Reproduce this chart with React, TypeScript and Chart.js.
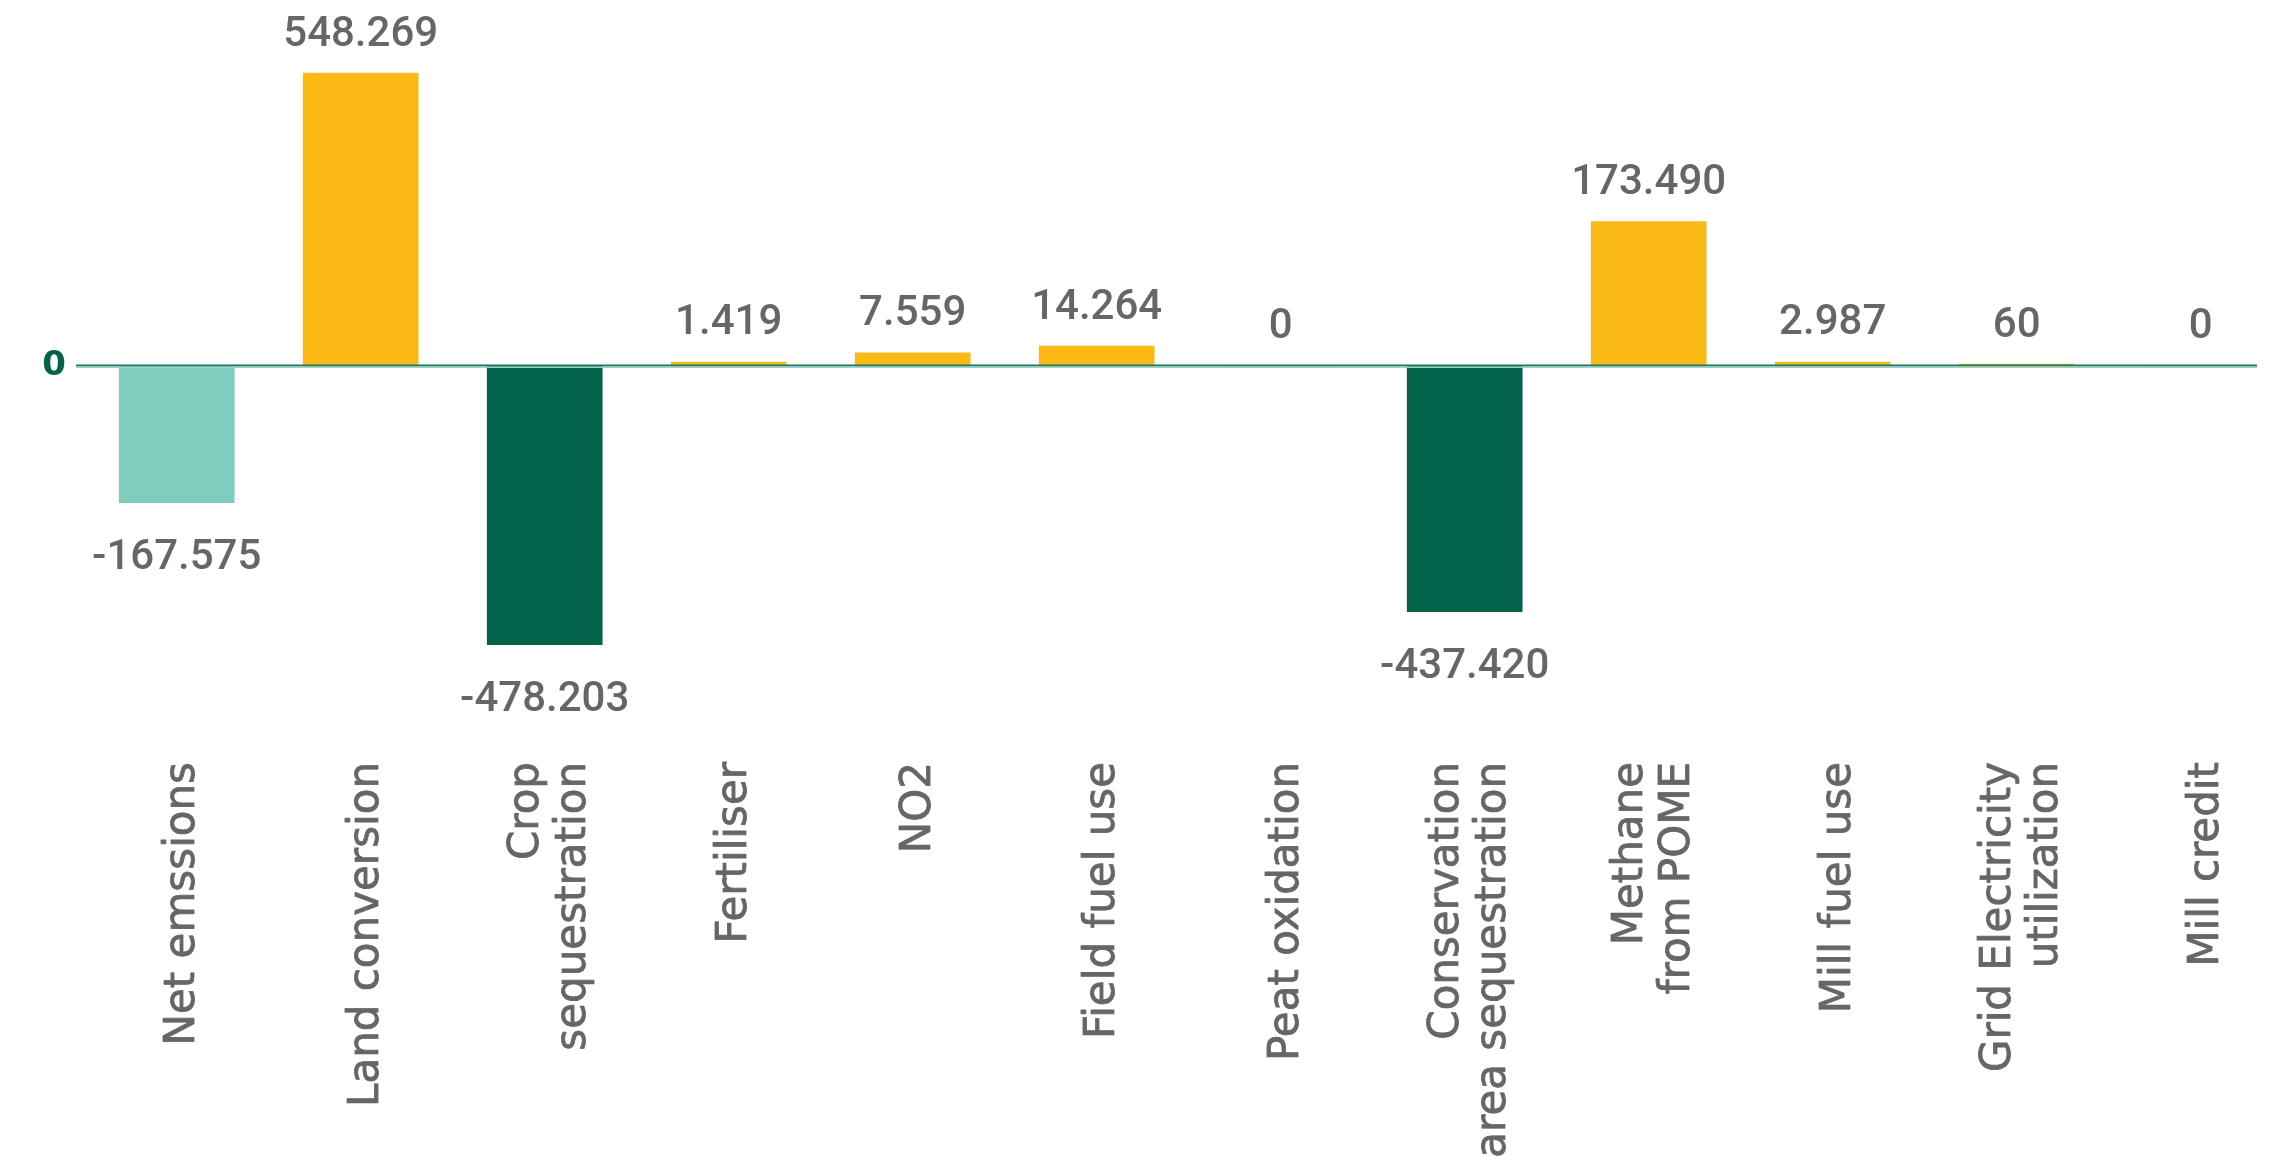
import React, { useEffect, useRef } from 'react';
import { Chart, registerables } from 'chart.js';

Chart.register(...registerables);

// Category names (multi-line where the picture wraps them)
const categories: string[][] = [
  ['Net emssions'],
  ['Land conversion'],
  ['Crop', 'sequestration'],
  ['Fertiliser'],
  ['NO2'],
  ['Field fuel use'],
  ['Peat oxidation'],
  ['Conservation', 'area sequestration'],
  ['Methane', 'from POME'],
  ['Mill fuel use'],
  ['Grid Electricity', 'utilization'],
  ['Mill credit'],
];

// Value labels printed on the chart
const valueLabels: string[] = [
  '-167.575', '548.269', '-478.203', '1.419', '7.559', '14.264',
  '0', '-437.420', '173.490', '2.987', '60', '0',
];

// Bar lengths as drawn in the picture (same units as the tallest bar, 548.269)
const barValues: number[] = [
  -255.8, 548.3, -521.5, 7.5, 24.5, 37.4, 0, -459.8, 270.4, 7.5, 3.7, 0,
];

const TEAL = '#7FCDBF';
const YELLOW = '#FBB916';
const GREEN = '#03634A';
const barColors: string[] = [
  TEAL, YELLOW, GREEN, YELLOW, YELLOW, YELLOW, YELLOW, GREEN, YELLOW, YELLOW, YELLOW, YELLOW,
];

const yTicks: number[] = [0];

const labelPlugin = {
  id: 'customLabels',
  afterDatasetsDraw(chart: any) {
    const ctx = chart.ctx as CanvasRenderingContext2D;
    const meta = chart.getDatasetMeta(0);
    const xs = chart.scales.x;
    const ys = chart.scales.y;
    const area = chart.chartArea;
    const y0 = ys.getPixelForValue(0);
    ctx.save();
    // zero line
    ctx.fillStyle = '#1E7764';
    ctx.fillRect(area.left, y0 - 1.5, area.right - area.left, 2);
    ctx.fillStyle = '#9FD2C7';
    ctx.fillRect(area.left, y0 + 0.5, area.right - area.left, 1.5);

    // value labels
    ctx.font = '500 42px Roboto';
    ctx.fillStyle = '#666666';
    ctx.textAlign = 'center';
    ctx.textBaseline = 'middle';
    meta.data.forEach((bar: any, i: number) => {
      const v = barValues[i];
      const ty = v < 0 ? bar.y + 56 : bar.y - 38;
      ctx.fillText(valueLabels[i], bar.x, ty);
    });

    // category labels (rotated)
    ctx.font = '42px "DejaVu Sans"';
    ctx.textAlign = 'right';
    ctx.textBaseline = 'middle';
    ctx.strokeStyle = '#666666';
    ctx.lineWidth = 0.8;
    ctx.lineJoin = 'round';
    categories.forEach((lines, i) => {
      const cx = xs.getPixelForValue(i) + 6;
      lines.forEach((line, j) => {
        const lx = cx + (j - (lines.length - 1) / 2) * 46.5;
        ctx.save();
        ctx.translate(lx, 762);
        ctx.rotate(-Math.PI / 2);
        ctx.fillText(line, 0, 0);
        ctx.strokeText(line, 0, 0);
        ctx.restore();
      });
    });
    ctx.restore();
  },
};

export default function App() {
  const ref = useRef<HTMLCanvasElement | null>(null);

  useEffect(() => {
    if (!ref.current) return;
    const chart = new Chart(ref.current, {
      type: 'bar',
      data: {
        datasets: [
          {
            data: barValues.map((v, i) => ({ x: i, y: v })) as any,
            backgroundColor: barColors,
            borderWidth: 0,
            barThickness: 115,
          },
        ],
      },
      options: {
        animation: false,
        responsive: true,
        maintainAspectRatio: false,
        layout: { padding: { left: 0, right: 23, top: 0, bottom: 417 } },
        plugins: {
          legend: { display: false },
          tooltip: { enabled: false },
        },
        scales: {
          x: {
            type: 'linear',
            display: false,
            offset: false,
            min: -0.5473,
            max: 11.306,
          },
          y: {
            min: -700,
            max: 685,
            afterBuildTicks: (s: any) => {
              s.ticks = yTicks.map((v) => ({ value: v }));
            },
            afterFit: (s: any) => {
              s.width = 76;
              s.paddingTop = 0;
              s.paddingBottom = 0;
            },
            ticks: {
              color: GREEN,
              font: { family: 'DejaVu Sans', weight: 'bold', size: 34 },
              padding: 10,
              callback: (v: any) => String(v),
            },
            grid: { display: false, drawTicks: false },
            border: { display: false },
          },
        },
      } as any,
      plugins: [labelPlugin],
    });
    return () => chart.destroy();
  }, []);

  return (
    <div style={{ position: 'fixed', left: 0, top: 0, width: 2280, height: 1157, background: '#fff' }}>
      <canvas ref={ref} />
    </div>
  );
}
